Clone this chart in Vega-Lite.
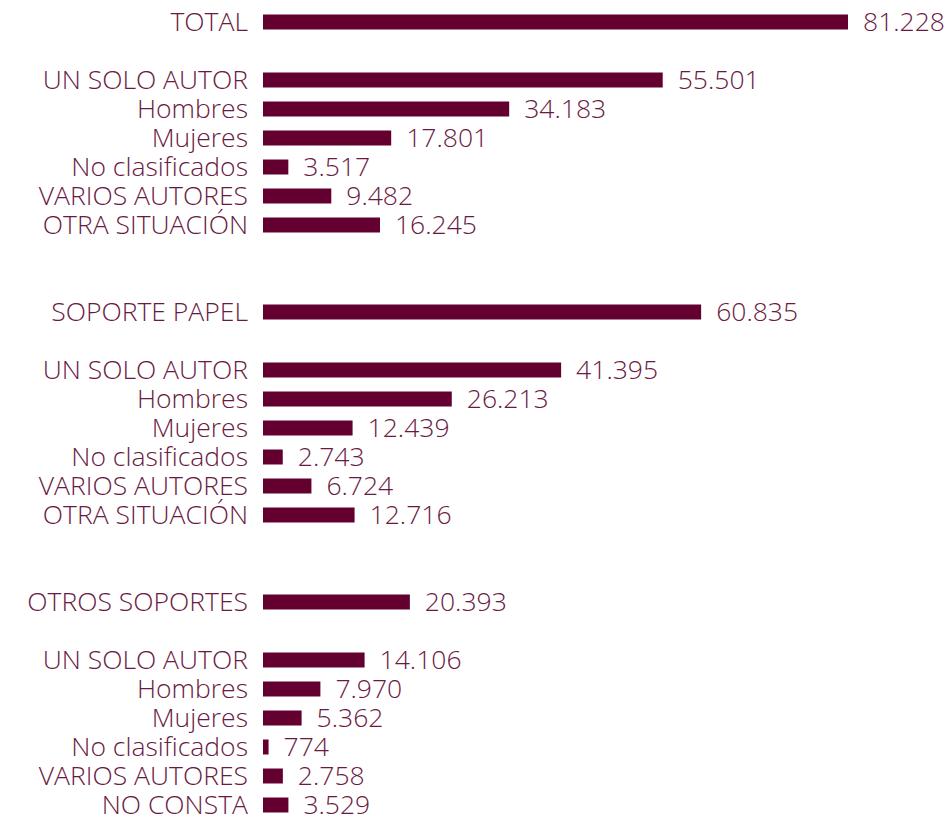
{
  "$schema": "https://vega.github.io/schema/vega-lite/v6.json",
  "width": 585,
  "height": 812,
  "autosize": {"type": "none"},
  "padding": {"top": 7.5, "left": 263, "right": 99, "bottom": 0},
  "background": "white",
  "config": {
    "view": {"stroke": null},
    "locale": {"number": {"decimal": ",", "thousands": ".", "grouping": [3], "currency": ["", " €"]}}
  },
  "data": {
    "values": [
      {"key": "t", "label": "TOTAL\u00a0\u00a0", "value": 81228},
      {"key": "t1", "label": "UN SOLO AUTOR", "value": 55501},
      {"key": "t2", "label": "Hombres", "value": 34183},
      {"key": "t3", "label": "Mujeres", "value": 17801},
      {"key": "t4", "label": "No clasificados", "value": 3517},
      {"key": "t5", "label": "VARIOS AUTORES", "value": 9482},
      {"key": "t6", "label": "OTRA SITUACIÓN", "value": 16245},
      {"key": "p", "label": "SOPORTE PAPEL", "value": 60835},
      {"key": "p1", "label": "UN SOLO AUTOR", "value": 41395},
      {"key": "p2", "label": "Hombres", "value": 26213},
      {"key": "p3", "label": "Mujeres", "value": 12439},
      {"key": "p4", "label": "No clasificados", "value": 2743},
      {"key": "p5", "label": "VARIOS AUTORES", "value": 6724},
      {"key": "p6", "label": "OTRA SITUACIÓN", "value": 12716},
      {"key": "o", "label": "OTROS SOPORTES", "value": 20393},
      {"key": "o1", "label": "UN SOLO AUTOR", "value": 14106},
      {"key": "o2", "label": "Hombres", "value": 7970},
      {"key": "o3", "label": "Mujeres", "value": 5362},
      {"key": "o4", "label": "No clasificados", "value": 774},
      {"key": "o5", "label": "VARIOS AUTORES", "value": 2758},
      {"key": "o6", "label": "NO CONSTA", "value": 3529}
    ]
  },
  "encoding": {
    "y": {
      "field": "key",
      "type": "nominal",
      "axis": null,
      "scale": {
        "domain": ["t", "g1", "t1", "t2", "t3", "t4", "t5", "t6", "g2", "g3", "p", "g4", "p1", "p2", "p3", "p4", "p5", "p6", "g5", "g6", "o", "g7", "o1", "o2", "o3", "o4", "o5", "o6"],
        "paddingInner": 0.483,
        "paddingOuter": 0.2415
      }
    }
  },
  "layer": [
    {
      "mark": {"type": "bar", "color": "#640030"},
      "encoding": {
        "x": {"field": "value", "type": "quantitative", "axis": null, "scale": {"domain": [0, 81228], "nice": false}}
      }
    },
    {
      "mark": {"type": "text", "align": "left", "baseline": "middle", "dx": 15, "dy": 1, "font": "Open Sans", "fontWeight": 300, "fontSize": 26.5, "color": "#6a1a42"},
      "encoding": {
        "x": {"field": "value", "type": "quantitative"},
        "text": {"field": "value", "type": "quantitative", "format": ",d"}
      }
    },
    {
      "mark": {"type": "text", "align": "right", "baseline": "middle", "dx": -15, "dy": 1, "font": "Open Sans", "fontWeight": 300, "fontSize": 26.5, "color": "#6a1a42"},
      "encoding": {
        "x": {"datum": 0, "type": "quantitative"},
        "text": {"field": "label"}
      }
    }
  ]
}
